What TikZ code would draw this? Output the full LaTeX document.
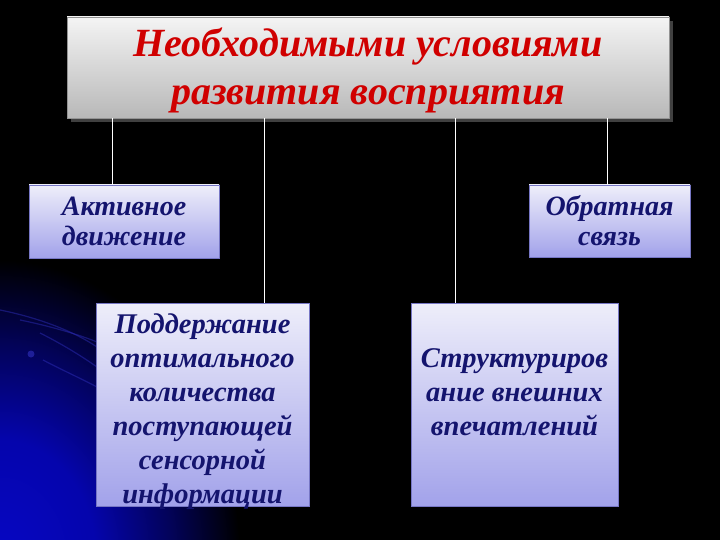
\documentclass[tikz,border=0pt]{standalone}
\usepackage{fontspec}
\setmainfont{Liberation Serif}
\definecolor{glowblue}{HTML}{0606C4}
\pgfdeclareradialshading{glowshade}{\pgfpoint{0bp}{0bp}}{color(0bp)=(glowblue); color(10bp)=(glowblue!88!black); color(18bp)=(glowblue!45!black); color(25bp)=(black); color(50bp)=(black)}
\begin{document}
\begin{tikzpicture}[x=1pt,y=-1pt]
\definecolor{swoosh}{HTML}{3030C0}
\definecolor{titlered}{HTML}{D00000}
\definecolor{navy}{HTML}{14146E}
\definecolor{boxtop}{HTML}{EEEEFA}
\definecolor{boxbot}{HTML}{A2A2EA}
\definecolor{graytop}{HTML}{F4F4F4}
\definecolor{graybot}{HTML}{B8B8B8}
\tikzset{
  lavbox/.style={rectangle, top color=boxtop, bottom color=boxbot, draw=boxbot!70!navy, line width=0.4pt,
    inner sep=0pt, align=center, text=navy, font=\fontsize{28.5}{34}\selectfont\bfseries\itshape},
  boxtext/.style={inner sep=0pt, align=center, text=navy, font=\fontsize{28.5}{34}\selectfont\bfseries\itshape},
  conn/.style={draw=white, line width=0.8pt},
  sw/.style={draw=swoosh, line width=1.2pt, opacity=0.45}
}
% background
\fill[black] (0,0) rectangle (720,540);
\useasboundingbox (0,0) rectangle (720,540);
\begin{scope}
  \clip (0,0) rectangle (720,540);
  \shade[shading=glowshade] (0,560) ellipse (240 and 300);
  \draw[sw] (0,310) .. controls (40,318) and (75,332) .. (97,347);
  \draw[sw] (20,320) .. controls (50,326) and (80,335) .. (97,342);
  \draw[sw] (40,333) .. controls (60,343) and (80,355) .. (97,367);
  \draw[sw] (43,360) .. controls (62,370) and (80,378) .. (97,387);
  \fill[swoosh, opacity=0.6] (31,354) circle (3.5);
\end{scope}
% title
\fill[black!75] (71,21) rectangle (673,122);
\node[rectangle, top color=graytop, bottom color=graybot, draw=graybot!80!black, line width=0.4pt,
  minimum width=602, minimum height=101, inner sep=0pt] (title) at (368,67.5) {};
\node[inner sep=0pt, align=center, text=titlered, font=\fontsize{40}{48}\selectfont\bfseries\itshape]
  (titletext) at (368,70) {Необходимыми условиями\\развития восприятия};
% boxes
\node[lavbox, minimum width=190, minimum height=73, font=\fontsize{28}{30}\selectfont\bfseries\itshape] (a1) at (124,221.5) {Активное\\движение};
\node[lavbox, minimum width=161, minimum height=72, font=\fontsize{28}{30}\selectfont\bfseries\itshape] (a3) at (609.5,221) {Обратная\\связь};
\node[lavbox, minimum width=213, minimum height=203] (a2) at (202.5,404.5) {};
\node[boxtext] (a2t) at (202.5,412)
  {Поддержание\\оптимального\\количества\\поступающей\\сенсорной\\информации};
\node[lavbox, minimum width=207, minimum height=203] (a4) at (514.5,404.5) {};
\node[boxtext] (a4t) at (514.5,392) {Структуриров\\ание внешних\\впечатлений};
% connectors
\draw[conn] ([xshift=-12pt]a1.north) -- ([xshift=-12pt]a1.north |- title.south);
\draw[conn] ([xshift=61.5pt]a2.north) -- ([xshift=61.5pt]a2.north |- title.south);
\draw[conn] ([xshift=-59.5pt]a4.north) -- ([xshift=-59.5pt]a4.north |- title.south);
\draw[conn] ([xshift=-2.5pt]a3.north) -- ([xshift=-2.5pt]a3.north |- title.south);
\end{tikzpicture}
\end{document}
